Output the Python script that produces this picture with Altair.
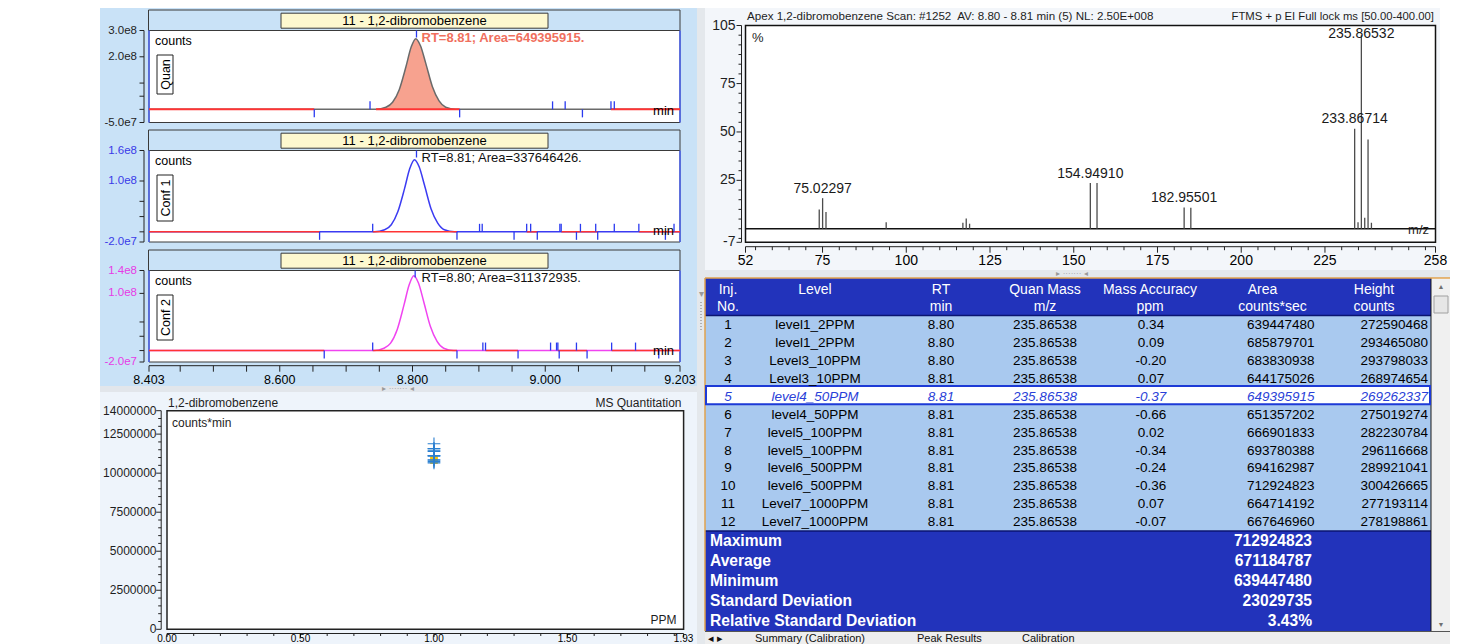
import altair as alt
import pandas as pd

OX = OY = 8
W, H = 1466, 636
FONT = "Liberation Sans"


def px(v):
    return v - OX


# ======================= DATA =======================
# --- chromatograms: retention time (min) and signal (counts) ---
quan_t = [8.403, 8.745, 8.760, 8.770, 8.780, 8.790, 8.798, 8.805, 8.812, 8.820, 8.830, 8.840, 8.850, 8.865, 9.203]
quan_i = [0, 0, 0.08e8, 0.27e8, 0.75e8, 1.61e8, 2.37e8, 2.69e8, 2.42e8, 1.75e8, 0.86e8, 0.32e8, 0.08e8, 0, 0]
conf1_t = [8.403, 8.743, 8.758, 8.768, 8.778, 8.788, 8.796, 8.803, 8.810, 8.818, 8.828, 8.838, 8.848, 8.863, 9.203]
conf1_i = [0, 0, 0.04e8, 0.14e8, 0.40e8, 0.85e8, 1.25e8, 1.42e8, 1.28e8, 0.92e8, 0.45e8, 0.17e8, 0.04e8, 0, 0]
conf2_t = [8.403, 8.742, 8.757, 8.767, 8.777, 8.787, 8.795, 8.802, 8.809, 8.817, 8.827, 8.837, 8.847, 8.862, 9.203]
conf2_i = [0, 0, 0.04e8, 0.13e8, 0.37e8, 0.79e8, 1.15e8, 1.31e8, 1.18e8, 0.85e8, 0.42e8, 0.16e8, 0.04e8, 0, 0]

# red baseline segments (start, end in min)
quan_base = [(8.403, 8.652), (8.745, 8.871), (9.099, 9.203)]
conf1_base = [(8.403, 8.660), (8.740, 8.867), (8.972, 8.988), (9.024, 9.079), (9.141, 9.203)]
conf2_base = [(8.403, 8.667), (8.740, 8.867), (8.910, 8.959), (9.019, 9.063), (9.100, 9.203)]

# blue peak-detection markers (time, +1 above / -1 below baseline)
quan_mk_t = [8.652, 8.736, 8.871, 9.011, 9.030, 9.056, 9.099, 9.104]
quan_mk_d = [-1, 1, -1, 1, 1, -1, 1, 1]
conf1_mk_t = [8.660, 8.740, 8.867, 8.901, 8.905, 8.953, 8.972, 8.978, 8.988, 9.022, 9.024,
              9.047, 9.053, 9.076, 9.079, 9.104, 9.141, 9.181, 9.194]
conf1_mk_d = [-1, 1, -1, 1, 1, -1, 1, 1, -1, 1, 1, -1, 1, 1, -1, 1, 1, -1, 1]
conf2_mk_t = [8.667, 8.740, 8.867, 8.906, 8.910, 8.959, 9.008, 9.017, 9.019, 9.021, 9.047,
              9.063, 9.100, 9.136, 9.171]
conf2_mk_d = [-1, 1, -1, 1, 1, -1, 1, 1, 1, -1, 1, -1, 1, 1, -1]
apex_t = [8.806, 8.806, 8.804]

quan_yt = [3e8, 2e8, -5e7]
quan_yl = ["3.0e8", "2.0e8", "-5.0e7"]
quan_ym = [1e8, 5e7, 0]
conf1_yt = [1.6e8, 1.0e8, -2e7]
conf1_yl = ["1.6e8", "1.0e8", "-2.0e7"]
conf1_ym = [6e7, 3e7, 0]
conf2_yt = [1.4e8, 1.0e8, -2e7]
conf2_yl = ["1.4e8", "1.0e8", "-2.0e7"]
conf2_ym = [5e7, 2.5e7, 0]

time_ticks = [8.403, 8.600, 8.800, 9.000, 9.203]
time_labels = ["8.403", "8.600", "8.800", "9.000", "9.203"]
time_minor = [8.45, 8.50, 8.55, 8.65, 8.70, 8.75, 8.85, 8.90, 8.95, 9.05, 9.10, 9.15]

# --- mass spectrum (m/z, relative abundance %) ---
spec_mz = [74.015, 75.023, 76.031, 94.0, 116.9, 117.9, 118.9, 154.949, 156.947, 182.955, 184.953,
           233.867, 234.87, 235.865, 236.87, 237.863, 238.87]
spec_rel = [9.9, 15.8, 8.7, 3.4, 3.1, 5.3, 2.6, 23.6, 23.6, 11.0, 10.8,
            51.6, 3.3, 100.0, 5.7, 46.1, 3.1]
spec_lab_mz = [75.023, 154.949, 182.955, 233.867]
spec_lab_rel = [15.8, 23.6, 11.0, 51.6]
spec_lab_txt = ["75.02297", "154.94910", "182.95501", "233.86714"]
base_lab_mz = [235.865]
base_lab_rel = [100.0]
base_lab_txt = ["235.86532"]
spec_yt = [105, 75, 50, 25, -7]
spec_yl = ["105", "75", "50", "25", "-7"]
spec_xt = [52, 75, 100, 125, 150, 175, 200, 225, 258]
spec_xl = ["52", "75", "100", "125", "150", "175", "200", "225", "258"]

# --- calibration table ---
inj = [1, 2, 3, 4, 5, 6, 7, 8, 9, 10, 11, 12]
level = ["level1_2PPM", "level1_2PPM", "Level3_10PPM", "Level3_10PPM", "level4_50PPM", "level4_50PPM",
         "level5_100PPM", "level5_100PPM", "level6_500PPM", "level6_500PPM", "Level7_1000PPM", "Level7_1000PPM"]
rt = ["8.80", "8.80", "8.80", "8.81", "8.81", "8.81", "8.81", "8.81", "8.81", "8.81", "8.81", "8.81"]
quan_mass = ["235.86538"] * 12
mass_acc = ["0.34", "0.09", "-0.20", "0.07", "-0.37", "-0.66", "0.02", "-0.34", "-0.24", "-0.36", "0.07", "-0.07"]
area = [639447480, 685879701, 683830938, 644175026, 649395915, 651357202,
        666901833, 693780388, 694162987, 712924823, 664714192, 667646960]
height = [272590468, 293465080, 293798033, 268974654, 269262337, 275019274,
          282230784, 296116668, 289921041, 300426665, 277193114, 278198861]
summary_labels = ["Maximum", "Average", "Minimum", "Standard Deviation", "Relative Standard Deviation"]
summary_values = ["712924823", "671184787", "639447480", "23029735", "3.43%"]

# --- calibration plot (all injections plotted at 1.00) ---
cal_ppm = [1.00, 1.00, 1.00, 1.00, 1.00, 1.00, 1.00, 1.00, 1.00, 1.00, 1.00, 1.00]
cal_yt = [0, 2500000, 5000000, 7500000, 10000000, 12500000, 14000000]
cal_yl = ["0", "2500000", "5000000", "7500000", "10000000", "12500000", "14000000"]
cal_xt = [0.0, 0.5, 1.0, 1.5, 1.935]
cal_xl = ["0.00", "0.50", "1.00", "1.50", "1.93"]


# ======================= HELPERS =======================
def lin(domain, r0, r1):
    return alt.Scale(domain=domain, range=[px(r0), px(r1)], nice=False, zero=False)


def rect_layer(boxes, **mk):
    df = pd.DataFrame(boxes, columns=["x1", "y1", "x2", "y2"]) - OX
    return alt.Chart(df).mark_rect(**mk).encode(
        x=alt.X("x1:Q", scale=None, axis=None), x2="x2:Q",
        y=alt.Y("y1:Q", scale=None, axis=None), y2="y2:Q")


def line_layer(segs, **mk):
    df = pd.DataFrame(segs, columns=["x1", "y1", "x2", "y2"]) - OX
    return alt.Chart(df).mark_rule(**mk).encode(
        x=alt.X("x1:Q", scale=None, axis=None), x2="x2:Q",
        y=alt.Y("y1:Q", scale=None, axis=None), y2="y2:Q")


def text_layer(items, **mk):
    df = pd.DataFrame(items, columns=["x", "y", "t"])
    df["x"] = df["x"] - OX
    df["y"] = df["y"] - OY
    props = dict(font=FONT, baseline="middle", align="left", fontSize=12, color="#000000")
    props.update(mk)
    return alt.Chart(df).mark_text(**props).encode(
        x=alt.X("x:Q", scale=None, axis=None), y=alt.Y("y:Q", scale=None, axis=None), text="t:N")


def yaxis(values, minor, labels, scale, xline, ytop, ybot, tick_len, minor_len, label_x, size, color, tick_color="#222222"):
    out = [line_layer([(xline, ytop, xline, ybot)], color=tick_color, strokeWidth=1)]
    out.append(alt.Chart(pd.DataFrame({"v": values})).mark_rule(color=tick_color, strokeWidth=1).encode(
        x=alt.value(px(xline - tick_len)), x2=alt.value(px(xline)), y=alt.Y("v:Q", scale=scale, axis=None)))
    if minor:
        out.append(alt.Chart(pd.DataFrame({"v": minor})).mark_rule(color=tick_color, strokeWidth=1).encode(
            x=alt.value(px(xline - minor_len)), x2=alt.value(px(xline)), y=alt.Y("v:Q", scale=scale, axis=None)))
    out.append(alt.Chart(pd.DataFrame({"v": values, "s": labels})).mark_text(
        align="right", baseline="middle", font=FONT, fontSize=size, color=color).encode(
        x=alt.value(px(label_x)), y=alt.Y("v:Q", scale=scale, axis=None), text="s:N"))
    return out


def xaxis(values, minor, labels, scale, yline, xl, xr, tick_len, minor_len, label_y, size,
          color="#000000", baseline="middle"):
    out = [line_layer([(xl, yline, xr, yline)], color="#222222", strokeWidth=1)]
    out.append(alt.Chart(pd.DataFrame({"v": values})).mark_rule(color="#222222", strokeWidth=1).encode(
        y=alt.value(px(yline)), y2=alt.value(px(yline + tick_len)), x=alt.X("v:Q", scale=scale, axis=None)))
    if minor:
        out.append(alt.Chart(pd.DataFrame({"v": minor})).mark_rule(color="#222222", strokeWidth=1).encode(
            y=alt.value(px(yline)), y2=alt.value(px(yline + minor_len)), x=alt.X("v:Q", scale=scale, axis=None)))
    out.append(alt.Chart(pd.DataFrame({"v": values, "s": labels})).mark_text(
        align="center", baseline=baseline, font=FONT, fontSize=size, color=color).encode(
        y=alt.value(px(label_y)), x=alt.X("v:Q", scale=scale, axis=None), text="s:N"))
    return out


def tscale():
    return lin([8.403, 9.203], 149, 680)


def chrom(top, bot, dom, t, sig, base_segs, mk_t, mk_d, apx, trace_color, lab_color,
          yt, yl, ym, tag, tag_h, rt_text, rt_kw, fill=None, base_w=1.5):
    ys = lin(dom, bot, top)
    xs = tscale()
    out = []
    out.append(rect_layer([(148.5, top - 20.5, 680, top)], fill="#c9e2f7", stroke="#3a3a3a", strokeWidth=1))
    out.append(rect_layer([(281, top - 17.3, 548, top - 2.3)], fill="#fdf8cf", stroke="#3a3a3a", strokeWidth=1))
    out.append(text_layer([(414.5, top - 9.8, "11 - 1,2-dibromobenzene")], align="center", fontSize=13))
    out.append(rect_layer([(149, top, 680, bot)], fill="#ffffff", stroke="#3a3a3a", strokeWidth=1))
    out.append(line_layer([(149, top, 149, bot), (680, top, 680, bot)], color="#4a62f2", strokeWidth=1.5))
    out += yaxis(yt, ym, yl, ys, 144, top, bot, 4.5, 4.5, 137, 11.5, lab_color)
    out.append(text_layer([(155, top + 10.5, "counts")], fontSize=12.5))
    out.append(rect_layer([(157, top + 24.5, 173, top + 24.5 + tag_h)], fill="#ffffff", stroke="#222222", strokeWidth=1))
    out.append(text_layer([(165.5, top + 24.5 + tag_h / 2, tag)], align="center", angle=270, fontSize=12.5))

    tr = pd.DataFrame({"t": t, "s": sig})
    if fill:
        out.append(alt.Chart(tr).transform_calculate(z="0").mark_area(
            interpolate="monotone", color=fill, opacity=1).encode(
            x=alt.X("t:Q", scale=xs, axis=None), y=alt.Y("s:Q", scale=ys, axis=None), y2="z:Q"))
    out.append(alt.Chart(tr).mark_line(interpolate="monotone", color=trace_color, strokeWidth=1.5).encode(
        x=alt.X("t:Q", scale=xs, axis=None), y=alt.Y("s:Q", scale=ys, axis=None)))
    bs = pd.DataFrame({"a": [s[0] for s in base_segs], "b": [s[1] for s in base_segs]})
    out.append(alt.Chart(bs).transform_calculate(z="0").mark_rule(color="#ff3434", strokeWidth=base_w).encode(
        x=alt.X("a:Q", scale=xs, axis=None), x2="b:Q", y=alt.Y("z:Q", scale=ys, axis=None)))
    tl = 8.0 * (dom[1] - dom[0]) / (bot - top)
    mk = pd.DataFrame({"t": mk_t, "d": mk_d})
    out.append(alt.Chart(mk).transform_calculate(z="0", tip=f"datum.d * {tl}").mark_rule(
        color="#2a3af0", strokeWidth=1.3).encode(
        x=alt.X("t:Q", scale=xs, axis=None), y=alt.Y("z:Q", scale=ys, axis=None), y2="tip:Q"))
    out.append(alt.Chart(pd.DataFrame({"t": [apx]})).mark_rule(color="#2a3af0", strokeWidth=1.3).encode(
        x=alt.X("t:Q", scale=xs, axis=None), y=alt.value(px(top)), y2=alt.value(px(top + 7))))
    out.append(text_layer([(421.5, top + 7.2, rt_text)], fontSize=13, **rt_kw))
    out.append(text_layer([(674, bot - 11.5, "min")], align="right", fontSize=13))
    return out


# ======================= LAYERS =======================
L = []
# window backgrounds
L.append(rect_layer([(100, 8, 697, 386)], fill="#c9e2f7", strokeWidth=0))
L.append(rect_layer([(100, 386, 697, 392)], fill="#e2e6eb", strokeWidth=0))
L.append(rect_layer([(100, 392, 697, 644)], fill="#eef4fb", strokeWidth=0))
L.append(rect_layer([(697, 8, 705, 644)], fill="#e4e8ec", strokeWidth=0))
L.append(rect_layer([(705, 8, 1440, 270)], fill="#f3f6fa", strokeWidth=0))
L.append(rect_layer([(705, 270, 1450, 278)], fill="#e4e8ec", strokeWidth=0))
L.append(text_layer([(398, 389, "\u25b8 \u00b7\u00b7\u00b7\u00b7\u00b7\u00b7\u00b7 \u25c2")], align="center", fontSize=8, color="#9a9a9a"))
L.append(text_layer([(1072, 274, "\u25b8 \u00b7\u00b7\u00b7\u00b7\u00b7\u00b7\u00b7 \u25c2")], align="center", fontSize=8, color="#9a9a9a"))
L.append(text_layer([(701, 294, "\u25be")], align="center", fontSize=10, color="#9a9a9a"))
L.append(line_layer([(701, 302, 701, 332)], color="#b0b0b0", strokeWidth=2, strokeDash=[1, 2]))

# chromatogram panels
L += chrom(30.5, 122.5, [-5e7, 3e8], quan_t, quan_i, quan_base, quan_mk_t, quan_mk_d, apex_t[0],
           "#6a6a6a", "#1e1e1e", quan_yt, quan_yl, quan_ym, "Quan", 39,
           "RT=8.81; Area=649395915.", dict(color="#f0705e", fontWeight="bold"), fill="#f7a28f", base_w=2)
L += chrom(150.5, 242, [-2e7, 1.6e8], conf1_t, conf1_i, conf1_base, conf1_mk_t, conf1_mk_d, apex_t[1],
           "#3b3bf2", "#3a3ae8", conf1_yt, conf1_yl, conf1_ym, "Conf 1", 46,
           "RT=8.81; Area=337646426.", dict(color="#111111"))
L += chrom(270.5, 362, [-2e7, 1.4e8], conf2_t, conf2_i, conf2_base, conf2_mk_t, conf2_mk_d, apex_t[2],
           "#f044f0", "#e63ae6", conf2_yt, conf2_yl, conf2_ym, "Conf 2", 45,
           "RT=8.80; Area=311372935.", dict(color="#111111"))
L += xaxis(time_ticks, time_minor, time_labels, tscale(), 365.7, 149, 680, 6, 6, 379.5, 12.5)

# calibration plot
cx = lin([0, 1.935], 167, 683.6)
cy = lin([0, 14e6], 629.3, 410.7)
L.append(rect_layer([(167, 410.7, 683.6, 629.3)], fill="#ffffff", stroke="#222222", strokeWidth=1.5))
cal_minor_y = [v * 500000 for v in range(1, 28) if v % 5 != 0]
L += yaxis(cal_yt, cal_minor_y, cal_yl, cy, 161.2, 410.7, 629.3, 5, 3, 156.5, 12, "#1e1e1e")
cal_minor_x = [v / 10 for v in range(1, 20) if v % 5 != 0]
L += xaxis(cal_xt, cal_minor_x, cal_xl, cx, 633.5, 167, 683.6, 3.5, 2.5, 643.8, 10, baseline="bottom")
L.append(text_layer([(168, 402.5, "1,2-dibromobenzene")], fontSize=12, color="#1e1e1e"))
L.append(text_layer([(681.5, 402.5, "MS Quantitation")], align="right", fontSize=12, color="#1e1e1e"))
L.append(text_layer([(172, 422.5, "counts*min")], fontSize=12, color="#1e1e1e"))
L.append(text_layer([(676.5, 619.5, "PPM")], align="right", fontSize=12, color="#1e1e1e"))
cal = pd.DataFrame({"inj": inj, "ppm": cal_ppm, "area": area})
L.append(alt.Chart(cal).transform_filter("datum.inj == 5 || datum.inj == 6").transform_calculate(
    cpm="datum.area / 60").mark_square(size=55, color="#f4c20d", opacity=1).encode(
    x=alt.X("ppm:Q", scale=cx, axis=None), y=alt.Y("cpm:Q", scale=cy, axis=None)))
L.append(alt.Chart(cal).transform_calculate(cpm="datum.area / 60").mark_point(
    shape="M-1,0L1,0M0,-1L0,1", filled=False, color="#2a7fd0", strokeWidth=1.1, size=160, opacity=1).encode(
    x=alt.X("ppm:Q", scale=cx, axis=None), y=alt.Y("cpm:Q", scale=cy, axis=None)))

# mass spectrum
sx = lin([52, 258], 745.5, 1435.5)
sy = lin([-7, 105], 242.3, 25.5)
L.append(rect_layer([(745.5, 25.5, 1435.5, 242.3)], fill="#ffffff", stroke="#111111", strokeWidth=1.5))
L.append(alt.Chart(pd.DataFrame({"z": [0]})).mark_rule(color="#111111", strokeWidth=1.5).encode(
    x=alt.value(px(745.5)), x2=alt.value(px(1435.5)), y=alt.Y("z:Q", scale=sy, axis=None)))
spec = pd.DataFrame({"mz": spec_mz, "rel": spec_rel})
L.append(alt.Chart(spec).transform_calculate(z="0").mark_rule(color="#4c4c4c", strokeWidth=1.3).encode(
    x=alt.X("mz:Q", scale=sx, axis=None), y=alt.Y("rel:Q", scale=sy, axis=None), y2="z:Q"))
L.append(alt.Chart(pd.DataFrame({"mz": spec_lab_mz, "rel": spec_lab_rel, "s": spec_lab_txt})).mark_text(
    align="center", baseline="middle", font=FONT, fontSize=14, color="#1a1a1a", dy=-9.5).encode(
    x=alt.X("mz:Q", scale=sx, axis=None), y=alt.Y("rel:Q", scale=sy, axis=None), text="s:N"))
L.append(alt.Chart(pd.DataFrame({"mz": base_lab_mz, "rel": base_lab_rel, "s": base_lab_txt})).mark_text(
    align="center", baseline="middle", font=FONT, fontSize=14, color="#1a1a1a", dy=-1).encode(
    x=alt.X("mz:Q", scale=sx, axis=None), y=alt.Y("rel:Q", scale=sy, axis=None), text="s:N"))
spec_minor_y = [v for v in range(-5, 105, 5) if v not in (75, 50, 25)]
L += yaxis(spec_yt, spec_minor_y, spec_yl, sy, 741.5, 25.5, 242.3, 5, 3, 735.5, 14, "#1e1e1e")
spec_minor_x = [v for v in range(55, 258, 5) if v not in (75, 100, 125, 150, 175, 200, 225)]
L += xaxis(spec_xt, spec_minor_x, spec_xl, sx, 246.7, 745.5, 1435.5, 6, 3.5, 261, 14)
L.append(text_layer([(747, 16.5, "Apex 1,2-dibromobenzene Scan: #1252\u00a0 AV: 8.80 - 8.81 min (5) NL: 2.50E+008")],
                    fontSize=11.6, color="#1e1e1e"))
L.append(text_layer([(1434, 16.5, "FTMS + p EI Full lock ms [50.00-400.00]")], align="right", fontSize=11.3, color="#1e1e1e"))
L.append(text_layer([(752, 38, "%")], fontSize=13, color="#1e1e1e"))
L.append(text_layer([(1429, 229.5, "m/z")], align="right", fontSize=13, color="#1e1e1e"))

# results table
L.append(rect_layer([(705, 278, 1431, 316)], fill="#2233bb", strokeWidth=0))
L.append(rect_layer([(705, 316, 1431, 531)], fill="#a9c9ef", strokeWidth=0))
L.append(rect_layer([(705, 531, 1431, 631)], fill="#2233bb", strokeWidth=0))
L.append(line_layer([(705, 315.5, 1431, 315.5), (705, 531, 1431, 531)], color="#0b1470", strokeWidth=1.5))
L.append(line_layer([(1431, 278, 1431, 631)], color="#111111", strokeWidth=1))
L.append(line_layer([(705, 278, 1450, 278), (705, 278, 705, 631)], color="#e0a24e", strokeWidth=1.5))
L.append(rect_layer([(1432, 279, 1450, 631)], fill="#f0f0f0", strokeWidth=0))
L.append(rect_layer([(1434, 296, 1448, 313)], fill="#e6e6e6", stroke="#a0a0a0", strokeWidth=1))
L.append(text_layer([(1441, 287, "\u25b2"), (1441, 625, "\u25bc")], align="center", fontSize=7, color="#707070"))
L.append(rect_layer([(706, 386, 1430, 404.3)], fill="#ffffff", stroke="#1d3ad6", strokeWidth=2))
L.append(text_layer([(728, 289.5, "Inj."), (728, 307, "No."), (815, 289.5, "Level"), (941, 289.5, "RT"),
                     (941, 307, "min"), (1045, 289.5, "Quan Mass"), (1045, 307, "m/z"),
                     (1150, 289.5, "Mass Accuracy"), (1150, 307, "ppm"), (1262.5, 289.5, "Area"),
                     (1272.5, 307, "counts*sec"), (1374, 289.5, "Height"), (1374, 307, "counts")],
                    align="center", fontSize=14, color="#ffffff"))
tbl = pd.DataFrame({"inj": inj, "level": level, "rt": rt, "mass": quan_mass, "acc": mass_acc,
                    "area": area, "height": height})
rs = lin([1, 12], 325, 522.3)
cols = [("inj", 728, "center"), ("level", 815, "center"), ("rt", 941, "center"), ("mass", 1045, "center"),
        ("acc", 1151, "center"), ("area", 1314.5, "right"), ("height", 1428, "right")]
for f, xpos, al in cols:
    for sel, kw in [("datum.inj != 5", dict(color="#000000")),
                    ("datum.inj == 5", dict(color="#2a3fd8", fontStyle="italic"))]:
        L.append(alt.Chart(tbl).transform_filter(sel).mark_text(
            align=al, baseline="middle", font=FONT, fontSize=13.5, **kw).encode(
            x=alt.value(px(xpos)), y=alt.Y("inj:Q", scale=rs, axis=None), text=f"{f}:N"))
summ = pd.DataFrame({"i": [0, 1, 2, 3, 4], "lab": summary_labels, "val": summary_values})
ss = lin([0, 4], 541, 620.7)
L.append(alt.Chart(summ).mark_text(align="left", baseline="middle", font=FONT, fontSize=15.6,
                                   fontWeight="bold", color="#ffffff").encode(
    x=alt.value(px(710)), y=alt.Y("i:Q", scale=ss, axis=None), text="lab:N"))
L.append(alt.Chart(summ).mark_text(align="right", baseline="middle", font=FONT, fontSize=15.6,
                                   fontWeight="bold", color="#ffffff").encode(
    x=alt.value(px(1312)), y=alt.Y("i:Q", scale=ss, axis=None), text="val:N"))
# tab strip
L.append(rect_layer([(705, 631, 1450, 644)], fill="#eeeeee", strokeWidth=0))
L.append(line_layer([(705, 631.5, 1450, 631.5)], color="#555555", strokeWidth=1))
L.append(text_layer([(708, 643.8, "\u25c2 \u25b8"), (755, 643.8, "Summary (Calibration)"),
                     (917, 643.8, "Peak Results"), (1022, 643.8, "Calibration")],
                    fontSize=11, color="#111111", baseline="bottom"))

chart = alt.layer(*L).properties(
    width=W, height=H, padding=0, autosize=alt.AutoSizeParams(type="none"), background="#ffffff"
).resolve_scale(x="independent", y="independent").configure_view(strokeWidth=0)

chart.save("out.html", embed_options={"renderer": "svg", "actions": False})
